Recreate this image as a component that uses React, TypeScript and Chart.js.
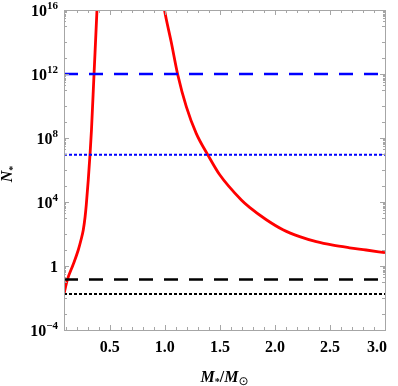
import React, { useEffect, useRef } from 'react';
import { Chart, registerables } from 'chart.js';

Chart.register(...registerables);

// ---- data ----
const X_MIN = 0.084;
const X_MAX = 3.0;
const Y_MIN = 1e-4;
const Y_MAX = 1e16;

const xTickValues = [0.5, 1.0, 1.5, 2.0, 2.5, 3.0];
const yTickExponents = [-4, 0, 4, 8, 12, 16];

// left (rising) red branch
const lowMassX = [0.0836, 0.1136, 0.1655, 0.2136, 0.2382, 0.2591, 0.2755, 0.2864, 0.3045, 0.32, 0.3336, 0.3564, 0.3836, 0.3945];
const lowMassN = [0.018, 0.133, 1.15, 10, 42, 178, 1150, 6500, 2.4e5, 8.7e6, 3.2e8, 8.7e11, 1e16, 8e17];

// right (falling) red branch
const highMassX = [0.975, 0.997, 1.058, 1.118, 1.195, 1.285, 1.391, 1.497, 1.695, 1.77, 1.922, 2.073, 2.225, 2.376, 2.527, 2.678, 2.829, 3.0];
const highMassN = [1e17, 1e16, 1e14, 8.7e11, 9.1e9, 1.95e8, 8.7e6, 5.2e5, 1.33e4, 4600, 780, 185, 68, 33, 20, 13.8, 10, 6.8];

// horizontal reference levels
const blueDashedLevel = 1e12;
const blueDottedLevel = 9e6;
const blackDashedLevel = 0.145;
const blackDottedLevel = 0.018;

const SERIF = "'Liberation Serif', 'Times New Roman', serif";

const framePlugin = {
  id: 'mmaFrame',
  afterDraw(chart: any) {
    const { ctx, chartArea } = chart;
    const { left, right, top, bottom } = chartArea;
    const xs = chart.scales.x;
    const ys = chart.scales.y;
    ctx.save();
    // frame
    ctx.strokeStyle = '#a6a6a6';
    ctx.lineWidth = 1;
    ctx.strokeRect(Math.round(left) + 0.5, Math.round(top) + 0.5, Math.round(right - left), Math.round(bottom - top));
    // x ticks (inward, bottom and top)
    ctx.beginPath();
    for (let k = 1; k <= 30; k++) {
      const v = k / 10;
      if (v < X_MIN - 1e-9 || v > X_MAX + 1e-9) continue;
      const px = Math.round(xs.getPixelForValue(v)) + 0.5;
      const len = k % 5 === 0 ? 5 : 3;
      ctx.moveTo(px, bottom);
      ctx.lineTo(px, bottom - len);
      ctx.moveTo(px, top);
      ctx.lineTo(px, top + len);
    }
    // y ticks (left and right)
    for (let e = -4; e <= 16; e++) {
      const py = Math.round(ys.getPixelForValue(Math.pow(10, e))) + 0.5;
      const major = yTickExponents.includes(e);
      const len = major ? 5 : 3;
      ctx.moveTo(left, py);
      ctx.lineTo(left + len, py);
      ctx.moveTo(right, py);
      ctx.lineTo(right - len, py);
      if (major && e > -4) {
        for (let m = 2; m <= 9; m++) {
          const pm = Math.round(ys.getPixelForValue(m * Math.pow(10, e - 1))) + 0.5;
          ctx.moveTo(left, pm);
          ctx.lineTo(left + 2, pm);
          ctx.moveTo(right, pm);
          ctx.lineTo(right - 2, pm);
        }
      }
    }
    ctx.stroke();

    // y tick labels 10^n
    ctx.fillStyle = '#000';
    const labelRight = left - 6;
    for (const e of yTickExponents) {
      const py = ys.getPixelForValue(Math.pow(10, e));
      if (e === 0) {
        ctx.font = `bold 16px ${SERIF}`;
        ctx.textAlign = 'right';
        ctx.textBaseline = 'alphabetic';
        ctx.fillText('1', labelRight, py + 5.5);
        continue;
      }
      const expText = e < 0 ? '\u2212' + String(-e) : String(e);
      ctx.font = `bold 11px ${SERIF}`;
      const expW = ctx.measureText(expText).width;
      ctx.textAlign = 'right';
      ctx.textBaseline = 'alphabetic';
      ctx.fillText(expText, labelRight, py - 1);
      ctx.font = `bold 16px ${SERIF}`;
      ctx.fillText('10', labelRight - expW, py + 5.5);
    }

    // x tick labels
    ctx.font = `bold 16px ${SERIF}`;
    ctx.textBaseline = 'alphabetic';
    ctx.textAlign = 'center';
    for (const v of xTickValues) {
      const px = xs.getPixelForValue(v);
      const text = v.toFixed(1);
      const w = ctx.measureText(text).width;
      let cx = px;
      if (cx + w / 2 > 387) cx = 387 - w / 2;
      ctx.fillText(text, cx, bottom + 22);
    }

    // x axis title: M_* / M_sun
    const cxT = (left + right) / 2;
    const baseY = 381.5;
    const parts: [string, string, number][] = [
      ['M', `italic bold 16px ${SERIF}`, 0],
      ['*', `bold 10px ${SERIF}`, 3],
      ['/', `bold 16px ${SERIF}`, 0],
      ['M', `italic bold 16px ${SERIF}`, 0],
      ['\u2299', `12px 'DejaVu Sans', sans-serif`, 3],
    ];
    let total = 0;
    const widths: number[] = [];
    for (const [t, f] of parts) {
      ctx.font = f;
      const w = ctx.measureText(t).width;
      widths.push(w);
      total += w;
    }
    let xCur = cxT - total / 2;
    ctx.textAlign = 'left';
    parts.forEach(([t, f, dy], i) => {
      ctx.font = f;
      ctx.fillText(t, xCur, baseY + dy);
      xCur += widths[i];
    });

    // y axis title: N_*
    ctx.save();
    ctx.translate(12, 174);
    ctx.rotate(-Math.PI / 2);
    ctx.font = `italic bold 16px ${SERIF}`;
    const nW = ctx.measureText('N').width;
    ctx.font = `bold 10px ${SERIF}`;
    const sW = ctx.measureText('*').width;
    const start = -(nW + sW) / 2;
    ctx.textAlign = 'left';
    ctx.font = `italic bold 16px ${SERIF}`;
    ctx.fillText('N', start, 0);
    ctx.font = `bold 10px ${SERIF}`;
    ctx.fillText('*', start + nW, 4);
    ctx.restore();

    ctx.restore();
  },
};

function levelLine(level: number, color: string, dash: number[], width: number) {
  return {
    data: [
      { x: X_MIN, y: level },
      { x: X_MAX, y: level },
    ],
    borderColor: color,
    borderWidth: width,
    borderDash: dash,
    pointRadius: 0,
    fill: false,
  };
}

export default function App() {
  const canvasRef = useRef<HTMLCanvasElement | null>(null);

  useEffect(() => {
    document.body.style.margin = '0';
    const canvas = canvasRef.current;
    if (!canvas) return;
    const chart = new Chart(canvas, {
      type: 'line',
      data: {
        datasets: [
          levelLine(blueDashedLevel, '#0000ff', [14, 11], 2.5),
          levelLine(blueDottedLevel, '#0000ff', [3, 2], 2),
          levelLine(blackDashedLevel, '#000000', [14, 11], 2.5),
          levelLine(blackDottedLevel, '#000000', [3, 2], 2),
          {
            data: lowMassX.map((x, i) => ({ x, y: lowMassN[i] })),
            borderColor: '#ff0000',
            borderWidth: 2.8,
            pointRadius: 0,
            cubicInterpolationMode: 'monotone',
            fill: false,
          },
          {
            data: highMassX.map((x, i) => ({ x, y: highMassN[i] })),
            borderColor: '#ff0000',
            borderWidth: 2.8,
            pointRadius: 0,
            cubicInterpolationMode: 'monotone',
            fill: false,
          },
        ],
      } as any,
      options: {
        animation: false,
        responsive: false,
        devicePixelRatio: 1,
        layout: { padding: { top: 10, right: 13, left: 0, bottom: 0 } },
        plugins: {
          legend: { display: false },
          tooltip: { enabled: false },
        },
        scales: {
          x: {
            type: 'linear',
            min: X_MIN,
            max: X_MAX,
            grid: { display: false, drawTicks: false },
            border: { display: false },
            ticks: { display: false },
            afterBuildTicks: (scale: any) => {
              scale.ticks = xTickValues.map((v) => ({ value: v }));
            },
            afterFit: (scale: any) => {
              scale.height = 56;
            },
          },
          y: {
            type: 'logarithmic',
            min: Y_MIN,
            max: Y_MAX,
            grid: { display: false, drawTicks: false },
            border: { display: false },
            ticks: { display: false },
            afterBuildTicks: (scale: any) => {
              scale.ticks = yTickExponents.map((e) => ({ value: Math.pow(10, e) }));
            },
            afterFit: (scale: any) => {
              scale.width = 64;
            },
          },
        },
      } as any,
      plugins: [framePlugin],
    });
    return () => chart.destroy();
  }, []);

  return (
    <div style={{ width: 398, height: 386 }}>
      <canvas ref={canvasRef} width={398} height={386} style={{ display: 'block' }} />
    </div>
  );
}
